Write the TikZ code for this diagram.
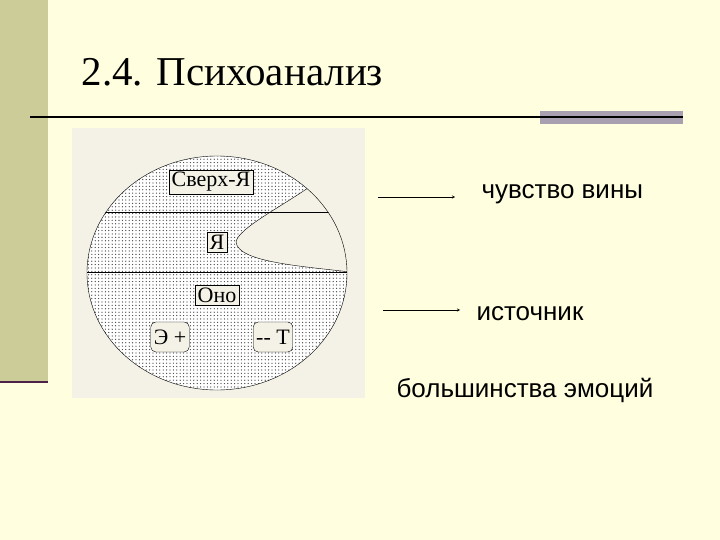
\documentclass[tikz,border=0pt]{standalone}
\usepackage{fontspec}
\setmainfont{Liberation Serif}
\newfontfamily\sansf{Liberation Sans}
\usetikzlibrary{patterns}
\pgfdeclarepatternformonly{mydots}{\pgfqpoint{-1pt}{-1pt}}{\pgfqpoint{1pt}{1pt}}{\pgfqpoint{3.4pt}{3.4pt}}{%
\pgfpathcircle{\pgfqpoint{0pt}{0pt}}{0.65pt}\pgfusepath{fill}}
\definecolor{bg}{HTML}{FFFFE0}
\definecolor{barc}{HTML}{CCCC99}
\definecolor{purp}{HTML}{4B2245}
\definecolor{grayp}{HTML}{A8A0B0}
\definecolor{panel}{HTML}{F4F2E6}
\tikzset{lbl/.style={draw,fill=panel,inner sep=2.5pt,font=\fontsize{22}{22}\selectfont},
 rlbl/.style={lbl,rounded corners=5pt,minimum height=30pt,inner sep=3pt},
 txt/.style={font=\sansf\fontsize{26}{26}\selectfont,anchor=base west},
 arr/.style={-stealth,thin}}
\begin{document}
\begin{tikzpicture}[x=1pt,y=-1pt]
\fill[bg] (0,0) rectangle (720,540);
\useasboundingbox (0,0) rectangle (720,540);
\fill[barc] (0,0) rectangle (48,382);
\draw[purp,line width=2.5pt] (0,382) -- (48,382);
\fill[grayp] (540,111) rectangle (683,124);
\draw[line width=1.5pt] (30,117) -- (683,117);
\node[anchor=base west,font=\fontsize{41}{41}\selectfont] (title) at (78,86) {2.4. Психоанализ};
\fill[panel] (72,128) rectangle (365,398);
\begin{scope}
\clip (217,273) ellipse [x radius=130, y radius=117];
\fill[white] (217,273) ellipse [x radius=130, y radius=117];
\fill[pattern=mydots,pattern color=black!75] (217,273) ellipse [x radius=130, y radius=117];
\fill[panel] (315,183) .. controls (285,205) and (238,228) .. (236,242) .. controls (238,262) and (300,266) .. (347,272) -- (400,272) -- (400,140) -- cycle;
\draw[thin] (315,183) .. controls (285,205) and (238,228) .. (236,242) .. controls (238,262) and (300,266) .. (350,272);
\draw (80,212) -- (360,212);
\draw (80,272) -- (360,272);
\end{scope}
\draw (217,273) ellipse [x radius=130, y radius=117];
\node[lbl] (sv) at (211,182) {Сверх-Я};
\node[lbl] (ya) at (217,242) {Я};
\node[lbl] (ono) at (217,295) {Оно};
\node[rlbl] (e) at (170,337) {Э +};
\node[rlbl] (t) at (273,337) {\mbox{-}\mbox{-} Т};
\node[txt] (t1) at (478,199) {чувство вины};
\node[txt] (t2) at (473,320) {источник};
\node[txt] (t3) at (393,397) {большинства эмоций};
\coordinate (a1) at (378,197);
\coordinate (a2) at (383,310);
\draw[arr] (a1) -- (455,197);
\draw[arr] (a2) -- (460,310);
\end{tikzpicture}
\end{document}
